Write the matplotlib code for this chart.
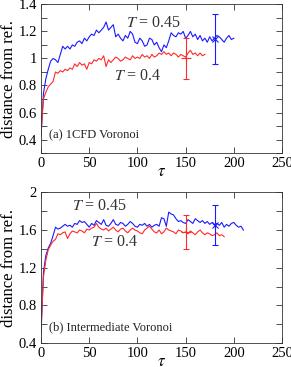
import numpy as np
import matplotlib
matplotlib.use("Agg")
import matplotlib.pyplot as plt
from matplotlib.ticker import MultipleLocator

plt.rcParams['font.family'] = ['Liberation Serif', 'DejaVu Serif']
plt.rcParams['mathtext.fontset'] = 'stix'

dtau = 2.5

# (a) 1CFD Voronoi
a_blue = [0.42, 0.74, 0.85, 0.92, 0.98, 1.00, 0.99, 0.97, 1.03, 1.09, 1.07, 1.09, 1.07, 1.10, 1.09, 1.12,
          1.13, 1.11, 1.15, 1.13, 1.16, 1.18, 1.17, 1.21, 1.19, 1.21, 1.23, 1.27, 1.21, 1.23, 1.25, 1.16,
          1.18, 1.15, 1.13, 1.17, 1.15, 1.20, 1.18, 1.12, 1.11, 1.15, 1.13, 1.09, 1.10, 1.15, 1.14, 1.10,
          1.12, 1.08, 1.05, 1.10, 1.08, 1.13, 1.19, 1.17, 1.16, 1.19, 1.18, 1.20, 1.15, 1.17, 1.20, 1.16,
          1.18, 1.14, 1.17, 1.13, 1.15, 1.12, 1.16, 1.13, 1.15, 1.17, 1.16, 1.14, 1.12, 1.15, 1.17, 1.14,
          1.15]
a_red = [0.45, 0.70, 0.75, 0.79, 0.81, 0.83, 0.90, 0.89, 0.91, 0.90, 0.92, 0.91, 0.93, 0.92, 0.96, 0.94,
         0.97, 0.95, 0.96, 0.92, 0.97, 0.96, 0.99, 0.98, 1.00, 0.99, 1.02, 0.94, 0.99, 0.97, 0.99, 1.01,
         1.00, 0.98, 0.99, 1.01, 1.00, 0.99, 1.02, 1.00, 1.01, 1.00, 1.03, 1.01, 1.02, 1.00, 1.03, 1.01,
         1.02, 1.04, 1.03, 1.05, 1.03, 1.04, 1.02, 1.04, 1.03, 1.01, 1.03, 1.02, 1.01, 1.04, 1.06, 1.03,
         1.04, 1.02, 1.04, 1.02, 1.03]
a_err_red = (150, 1.00, 0.15)
a_err_blue = (180, 1.145, 0.185)

# (b) Intermediate Voronoi
b_blue = [0.50, 1.15, 1.33, 1.41, 1.46, 1.54, 1.63, 1.61, 1.62, 1.64, 1.66, 1.64, 1.65, 1.63, 1.67, 1.66,
          1.70, 1.68, 1.69, 1.66, 1.63, 1.67, 1.65, 1.70, 1.68, 1.66, 1.71, 1.65, 1.64, 1.67, 1.71, 1.66,
          1.65, 1.68, 1.67, 1.64, 1.66, 1.69, 1.67, 1.64, 1.63, 1.66, 1.65, 1.67, 1.64, 1.66, 1.63, 1.65,
          1.66, 1.64, 1.73, 1.72, 1.64, 1.79, 1.77, 1.76, 1.72, 1.69, 1.70, 1.68, 1.67, 1.71, 1.69, 1.67,
          1.72, 1.70, 1.68, 1.70, 1.67, 1.69, 1.66, 1.68, 1.65, 1.67, 1.65, 1.68, 1.63, 1.66, 1.64, 1.67,
          1.68, 1.65, 1.63, 1.64, 1.60]
b_red = [0.55, 1.10, 1.28, 1.39, 1.44, 1.48, 1.50, 1.56, 1.55, 1.57, 1.58, 1.51, 1.56, 1.59, 1.58, 1.57,
         1.60, 1.59, 1.57, 1.61, 1.60, 1.62, 1.63, 1.67, 1.63, 1.61, 1.60, 1.62, 1.59, 1.61, 1.63, 1.60,
         1.58, 1.61, 1.62, 1.59, 1.57, 1.60, 1.62, 1.60, 1.59, 1.57, 1.56, 1.60, 1.62, 1.64, 1.61, 1.58,
         1.57, 1.60, 1.56, 1.58, 1.62, 1.60, 1.59, 1.58, 1.56, 1.60, 1.59, 1.57, 1.58, 1.56, 1.59, 1.57,
         1.55, 1.58, 1.60, 1.57, 1.55, 1.57, 1.56, 1.54, 1.55, 1.57, 1.54, 1.55, 1.53]
b_err_red = (150, 1.58, 0.18)
b_err_blue = (180, 1.655, 0.215)

fig = plt.figure(figsize=(2.91, 3.67), dpi=100)
ax1 = fig.add_axes([0.141, 0.583, 0.828, 0.405])
ax2 = fig.add_axes([0.141, 0.065, 0.828, 0.411])


def panel(ax, blue, red, eb, er, ylim, major, minor, label, lab_y, t45, t40):
    tb = np.arange(len(blue)) * dtau
    tr = np.arange(len(red)) * dtau
    ax.plot(tb, blue, color='#1a1aff', lw=0.8)
    ax.plot(tr, red, color='#ff2a2a', lw=0.8)
    ax.errorbar([er[0]], [er[1]], yerr=[er[2]], color='#ff2a2a', marker='+', ms=7,
                mew=0.8, elinewidth=0.8, capsize=2, capthick=0.8)
    ax.errorbar([eb[0]], [eb[1]], yerr=[eb[2]], color='#1a1aff', marker='x', ms=5,
                mew=0.8, elinewidth=0.8, capsize=2, capthick=0.8)
    ax.set_xlim(0, 250)
    ax.set_ylim(*ylim)
    ax.xaxis.set_major_locator(MultipleLocator(50))
    ax.yaxis.set_major_locator(MultipleLocator(major))
    ax.yaxis.set_minor_locator(MultipleLocator(minor))
    ax.tick_params(which='both', direction='in', top=True, right=True, labelsize=10.5,
                   color='#333333', width=0.6, pad=3)
    ax.tick_params(which='major', length=4)
    ax.tick_params(which='minor', length=4)
    ax.yaxis.set_major_formatter(plt.FuncFormatter(lambda v, p: f'{v:g}'))
    for s in ax.spines.values():
        s.set_linewidth(0.6)
        s.set_color('#333333')
    ax.set_xlabel(r'$\tau$', fontsize=12, labelpad=-4.5)
    ax.set_ylabel('distance from ref.', fontsize=12, labelpad=1)
    ax.text(8, lab_y, label, fontsize=9, va='center', ha='left', color='#222222')
    ax.text(t45[0], t45[1], r'$T$ = 0.45', fontsize=11.5, ha='center', va='center', color='#333333')
    ax.text(t40[0], t40[1], r'$T$ = 0.4', fontsize=11.5, ha='center', va='center', color='#333333')


panel(ax1, a_blue, a_red, a_err_blue, a_err_red, (0.3, 1.4), 0.2, 0.1,
      '(a) 1CFD Voronoi', 0.43, (117, 1.265), (100, 0.87))
panel(ax2, b_blue, b_red, b_err_blue, b_err_red, (0.4, 2.0), 0.4, 0.2,
      '(b) Intermediate Voronoi', 0.57, (61, 1.86), (77, 1.475))

fig.savefig('out.png', dpi=100)
